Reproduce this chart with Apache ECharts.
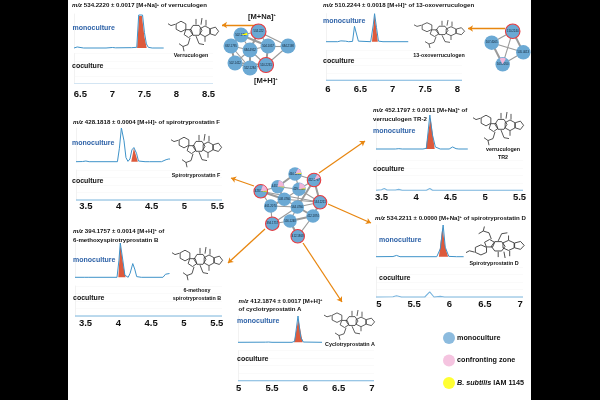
<!DOCTYPE html>
<html><head><meta charset="utf-8">
<style>html,body{margin:0;padding:0;background:#fff}#c{width:600px;height:400px}</style>
<script src="https://cdn.jsdelivr.net/npm/echarts@6/dist/echarts.min.js"></script>
</head><body><div id="c"></div>
<script>
// ---------- chromatogram data [retention time, relative intensity] ----------
const monoVerruculogen=[[6.4,0],[6.42,2],[6.45,3],[6.48,1],[6.55,0],[6.9,0],[7.0,1.5],[7.05,.5],[7.3,1],[7.38,2],[7.41,97],[7.47,97],[7.5,45],[7.53,12],[7.56,2],[7.62,0],[7.8,0]];
const redVerruculogen=[[7.385,0],[7.415,94],[7.46,94],[7.5,32],[7.535,0]];
const cocVerruculogen=[[6.4,0],[8.57,0]];
const monoOxo=[[5.97,0],[6.15,0],[6.2,3],[6.23,8],[6.27,2],[6.32,0],[6.38,1],[6.41,55],[6.44,50],[6.47,2],[6.5,0],[6.66,0],[6.7,60],[6.72,100],[6.75,50],[6.78,2],[6.85,0],[7.24,0]];
const redOxo=[[6.68,0],[6.72,96],[6.77,0]];
const cocOxo=[[5.97,0],[8.07,0]];
const monoF=[[3.35,0],[3.45,.5],[3.5,2],[3.55,0],[3.98,0],[4.01,40],[4.04,100],[4.08,62],[4.11,12],[4.14,1],[4.17,8],[4.2,35],[4.23,42],[4.27,25],[4.3,2],[4.4,0],[4.42,2],[4.47,0],[4.65,0],[4.72,6],[4.76,8],[4.78,8]];
const redF=[[4.19,0],[4.23,40],[4.29,0]];
const cocF=[[3.35,0],[5.57,0]];
const monoB=[[3.34,0],[3.48,0],[3.5,1],[3.54,0],[3.98,0],[4.01,50],[4.03,100],[4.07,48],[4.1,6],[4.15,0],[4.18,12],[4.22,40],[4.25,24],[4.28,2],[4.35,0],[4.68,0],[4.72,9],[4.75,6],[4.78,11]];
const redB=[[4.0,0],[4.03,96],[4.08,30],[4.11,0]];
const cocB=[[3.34,0],[5.58,0]];
const monoTR=[[3.42,0],[3.7,0],[3.75,1],[3.8,0],[4.1,0],[4.15,2],[4.2,100],[4.24,40],[4.28,6],[4.35,0],[4.48,0],[4.53,6],[4.58,1],[4.62,0],[4.75,0]];
const redTR=[[4.14,0],[4.21,92],[4.27,0]];
const cocTR=[[3.42,0],[3.5,2],[3.54,6],[3.58,1],[3.7,1],[3.75,3],[3.8,0],[4.15,0],[4.2,6],[4.24,0],[5.55,0]];
const monoD=[[4.96,0],[5.2,.5],[5.25,4],[5.3,0],[5.82,0],[5.87,25],[5.91,100],[5.94,30],[5.99,1],[6.1,0],[6.2,0]];
const redD=[[5.85,0],[5.9,94],[5.94,30],[5.98,0]];
const cocD=[[4.96,0],[5.2,1],[5.25,4],[5.32,0],[5.65,0],[5.72,17],[5.78,0],[5.87,2],[5.93,0],[7.04,0]];
const monoA=[[4.99,0],[5.4,.5],[5.45,1],[5.5,0],[5.8,0],[5.84,4],[5.89,100],[5.93,20],[5.97,1],[6.0,0],[6.25,0]];
const redA=[[5.83,0],[5.895,88],[5.96,0]];
const cocA=[[4.99,0],[5.85,0],[5.88,1],[5.92,0],[7.03,0]];

const tickVerruculogen=[6.5,7,7.5,8,8.5];
const tickOxo=[6,6.5,7,7.5,8];
const tickSpiro=[3.5,4,4.5,5,5.5];
const tickFive=[5,5.5,6,6.5,7];

// ---------- network nodes [x, y], labels, links ----------
const netALabels=['534.222','502.1797','692.1795','684.4952','504.1057','684.2198','502.1412','552.1284','510.2231'];
const netANodes=[[258.5,31.5],[241,35],[231,46],[250,50],[268,46],[288,46],[235,63],[250,68],[266,65]];
const netAMarked=[0,8];
const netALinks=[[0,1],[0,3],[0,4],[0,5],[1,2],[1,3],[2,3],[2,6],[3,4],[3,6],[3,7],[3,8],[4,5],[4,8],[5,8],[6,7],[6,8],[7,8],[2,7],[1,4]];
const netBLabels=['510.2244','507.4005','505.4013','505.2050'];
const netBNodes=[[512.7,31.3],[491.7,42.7],[523.3,52.3],[502.7,64.3]];
const netBMarked=[0];
const netBLinks=[[0,1],[0,2],[0,3],[1,2],[1,3],[2,3]];
const netCLabels=['460.1154','452.1797','443.1680','429.1466','428.1818','508.4760','534.2211','461.2074','564.4760','412.1874','394.1757','556.1248','412.1868'];
const netCNodes=[[295,174],[314,180],[277.7,186.7],[299,189.3],[260.7,191.3],[284.3,199.3],[320,202.3],[270.7,206],[297.3,207],[313,216],[272.3,223.7],[290,221],[297.7,236.3]];
const netCMarked=[1,4,6,10,12];
const netCLinks=[[0,1],[0,2],[0,3],[1,3],[1,6],[2,3],[2,4],[2,5],[3,5],[3,6],[4,5],[4,7],[5,6],[5,7],[5,8],[6,8],[6,9],[7,8],[7,10],[8,9],[8,10],[8,11],[9,11],[9,12],[10,11],[11,12],[4,6],[3,8],[1,8]];
// wedges: [x, y, start deg, end deg, kind]
const wedges=[[502.7,64.3,240,300,0],[295,174,300,350,0],[295,174,350,360,1],[277.7,186.7,280,360,0],[277.7,186.7,0,8,1],[299,189.3,275,350,0],[299,189.3,350,360,1],[260.7,191.3,290,355,0],[260.7,191.3,355,365,1],[241,35,340,360,1],[314,180,300,340,0]];

// ---------- panels ----------
const panels=[
 {mono:monoVerruculogen,red:redVerruculogen,coc:cocVerruculogen,ticks:tickVerruculogen,min:6.4,max:8.57,l:74,r:213,t:14,b:48,ct:53.5,cb:83.5,m:6,cc:'#d3e5f3'},
 {mono:monoOxo,red:redOxo,coc:cocOxo,ticks:tickOxo,min:5.97,max:8.07,l:326,r:462,t:13.7,b:41.7,ct:50.3,cb:80.3,m:4},
 {mono:monoF,red:redF,coc:cocF,ticks:tickSpiro,min:3.35,max:5.57,l:76,r:222,t:128,b:161.7,ct:170,cb:200,m:1},
 {mono:monoB,red:redB,coc:cocB,ticks:tickSpiro,min:3.34,max:5.58,l:75,r:222,t:243,b:277.3,ct:286,cb:316,m:2},
 {mono:monoTR,red:redTR,coc:cocTR,ticks:tickSpiro,min:3.42,max:5.55,l:376,r:523,t:115,b:149,ct:160.3,cb:190.3,m:2},
 {mono:monoD,red:redD,coc:cocD,ticks:tickFive,min:4.96,max:7.04,l:376,r:523,t:225,b:256.7,ct:267,cb:297,m:2},
 {mono:monoA,red:redA,coc:cocA,ticks:tickFive,min:4.99,max:7.03,l:238,r:374,t:316,b:342.3,ct:350.7,cb:380.7,m:3}
];
const BLUE='#3f93c9',RED='#dd5a3c',FONT='"Liberation Sans",Arial,sans-serif';
const grid=[],xAxis=[],yAxis=[],series=[],title=[];
const faint='#f7f7f7';
panels.forEach(p=>{
  const gi=grid.length;
  grid.push({left:p.l,top:p.t,width:p.r-p.l,height:p.b-p.t},{left:p.l,top:p.ct,width:p.r-p.l,height:p.cb-p.ct});
  xAxis.push({gridIndex:gi,type:'value',min:p.min,max:p.max,axisLine:{show:false},axisTick:{show:false},axisLabel:{show:false},splitLine:{show:false}});
  xAxis.push({gridIndex:gi+1,type:'value',min:p.min,max:p.max,axisLine:{show:false},axisTick:{show:false},splitLine:{show:false},
    axisLabel:{customValues:p.ticks,margin:p.m,fontSize:9.5,fontWeight:600,color:'#111',fontFamily:'"Liberation Sans Narrow","Liberation Sans",sans-serif',showMinLabel:true,showMaxLabel:true,hideOverlap:false}});
  yAxis.push({gridIndex:gi,type:'value',min:0,max:100,interval:25,axisLabel:{show:false},axisTick:{show:false},
    axisLine:{show:true,lineStyle:{color:'#f2f2f2',width:1}},splitLine:{show:false}});
  yAxis.push({gridIndex:gi+1,type:'value',min:0,max:100,interval:25,axisLabel:{show:false},axisTick:{show:false},
    axisLine:{show:true,lineStyle:{color:'#f2f2f2',width:1}},splitLine:{show:true,lineStyle:{color:faint,width:.6}}});
  series.push({type:'line',xAxisIndex:gi,yAxisIndex:gi,data:p.red,symbol:'none',silent:true,z:2,lineStyle:{width:0},areaStyle:{color:RED,opacity:1},itemStyle:{color:RED},clip:false});
  series.push({type:'line',xAxisIndex:gi,yAxisIndex:gi,data:p.mono,symbol:'none',silent:true,z:3,lineStyle:{color:BLUE,width:1},itemStyle:{color:BLUE},clip:false});
  series.push({type:'line',xAxisIndex:gi+1,yAxisIndex:gi+1,data:p.coc,symbol:'none',silent:true,z:3,lineStyle:{color:p.cc||'#7ab5de',width:1.1},itemStyle:{color:BLUE},clip:false});
});
// overlay grid in picture space for the networks and arrows
const ov=grid.length;
grid.push({left:0,top:0,width:600,height:400});
xAxis.push({gridIndex:ov,type:'value',min:0,max:600,show:false});
yAxis.push({gridIndex:ov,type:'value',min:0,max:400,inverse:true,show:false});
function net(labels,nodes,links,marked,size){
  series.push({type:'graph',coordinateSystem:'cartesian2d',xAxisIndex:ov,yAxisIndex:ov,z:5,silent:true,symbolSize:size,
    label:{show:true,position:'inside',fontSize:2.8,color:'#123',fontFamily:FONT},
    data:nodes.map((n,i)=>({name:labels[i],value:n,itemStyle:{color:'#6ba9d4',borderColor:marked.includes(i)?'#e83a3e':'#6ba9d4',borderWidth:marked.includes(i)?1.1:0}})),
    links:links.map((l,i)=>({source:l[0],target:l[1],lineStyle:{color:'#9a9a9a',width:i%3==1?2:1.1,opacity:1}}))});
}
net(netALabels,netANodes,netALinks,netAMarked,15);
net(netBLabels,netBNodes,netBLinks,netBMarked,14.5);
net(netCLabels,netCNodes,netCLinks,netCMarked,13.5);
const wedgeColors=['#f2b5d8','#ffff00'];
series.push({type:'custom',xAxisIndex:ov,yAxisIndex:ov,coordinateSystem:'cartesian2d',z:6,silent:true,data:wedges,clip:false,
  encode:{x:0,y:1},
  renderItem:(params,api)=>{
    const c=api.coord([api.value(0),api.value(1)]);
    const rad=Math.PI/180;
    return {type:'sector',shape:{cx:c[0],cy:c[1],r:6.4,r0:0,startAngle:api.value(2)*rad,endAngle:api.value(3)*rad},style:{fill:wedgeColors[api.value(4)]}};
  }});
const arrows=[[[258,25],[222,25]],[[505,28.5],[468,28.5]],[[319,173],[365,141]],[[328,204],[371,223]],[[254,186],[231,178]],[[265,229],[228,263]],[[303,243],[342,302]]];
series.push({type:'lines',coordinateSystem:'cartesian2d',xAxisIndex:ov,yAxisIndex:ov,z:4,silent:true,symbol:['none','arrow'],symbolSize:5,
  lineStyle:{color:'#e8860f',width:1.3,opacity:1,curveness:0},data:arrows.map(a=>({coords:a}))});
// legend
const legendNames=['monoculture','confronting zone','B. subtilis IAM 1145'];
const legendColors=['#6faad6','#f2b5d8','#ffff00'];
legendNames.forEach((n,i)=>series.push({type:'scatter',name:n,xAxisIndex:ov,yAxisIndex:ov,data:[],itemStyle:{color:legendColors[i]}}));

// ---------- text ----------
const rich={i:{fontStyle:'italic',fontWeight:'bold',fontSize:6.1,fontFamily:FONT,color:'#111'},s:{fontSize:4,fontWeight:'bold',verticalAlign:'top',fontFamily:FONT,color:'#111'}};
function T(text,x,y,size,color,extra){
  title.push(Object.assign({text,left:x,top:y-size/2,padding:0,itemGap:0,textStyle:{fontSize:size,fontWeight:'bold',color:color||'#111',fontFamily:FONT,rich}},extra||{}));
}
[['{i|m/z} 534.2220 ± 0.0017 [M+Na]{s|+} of verruculogen',72,5.5],
 ['{i|m/z} 510.2244 ± 0.0018 [M+H]{s|+} of 13-oxoverruculogen',323,5],
 ['{i|m/z} 428.1818 ± 0.0004 [M+H]{s|+} of spirotryprostatin F',73,122.7],
 ['{i|m/z} 394.1757 ± 0.0014 [M+H]{s|+} of',73,231],
 ['6-methoxyspirotryprostatin B',73,240],
 ['{i|m/z} 452.1797 ± 0.0011 [M+Na]{s|+} of',373,110],
 ['verruculogen TR-2',373,119],
 ['{i|m/z} 534.2211 ± 0.0000 [M+Na]{s|+} of spirotryprostatin D',375,218],
 ['{i|m/z} 412.1874 ± 0.0017 [M+H]{s|+}',238.5,301],
 ['of cyclotryprostatin A',238.5,309]].forEach(a=>T(a[0],a[1],a[2],6.1));
[[72.5,28],[323,21],[72,143],[73,260],[373,131],[379,240],[237,321]].forEach(a=>T('monoculture',a[0],a[1],7,'#2f63a8',{}));
[[72,66],[323,61],[72,181],[73,298],[373,169],[379,278],[237,359]].forEach(a=>T('coculture',a[0],a[1],7,'#111'));
[['Verruculogen',191,56],['13-oxoverruculogen',439,56],['Spirotryprostatin F',196,176],['6-methoxy',197,291],['spirotryprostatin B',197,299],
 ['verruculogen',503,150],['TR2',503,157.5],['Spirotryprostatin D',494,264],['Cyclotryprostatin A',350,345]].forEach(a=>T(a[0],a[1],a[2],5.4,'#111',{textAlign:'center'}));
T('[M+Na]{s|+}',248,17,7.6,'#222');
T('[M+H]{s|+}',254,81,7.6,'#222');

// ---------- structure sketches ----------
function ring(cx,cy,r,n,rot){const p=[];for(let i=0;i<=n;i++){const a=(rot||0)+i*2*Math.PI/n;p.push([cx+r*Math.cos(a),cy+r*Math.sin(a)]);}return p;}
const molShape=[ring(13,9,5.6,6,Math.PI/6),ring(20.5,16,4.6,5,0.3),ring(28,13,6,6,0),ring(37,14,5.6,6,Math.PI/6),ring(46,14,4.6,5,0),
 [[0,6],[3,8],[7.5,6.5]],[[22,21],[20,28],[15,30],[11,27]],[[15,30],[16,35]],[[28,19],[31,27],[36,28]],[[37,20],[37,25]],[[34,0],[33,7]],[[38,2],[38,8]],[[28,7],[28,1]]];
function mol(x,y,sx,sy,flip){
  return {type:'group',x,y,scaleX:sx,scaleY:flip?-sy:sy,silent:true,children:molShape.map(pts=>({type:'polyline',shape:{points:pts},style:{stroke:'#333',fill:'none',lineWidth:.85}}))};
}
const graphic=[
  {type:'rect',left:0,top:0,shape:{width:68,height:400},style:{fill:'#000'},z:100,silent:true},
  {type:'rect',left:531,top:0,shape:{width:69,height:400},style:{fill:'#000'},z:100,silent:true},
  mol(168,18,1,.95),mol(414,20,1,.8),mol(171,134,1,.95),mol(172,247,1,.95),mol(473,112,1,.95),mol(466,258,1.15,.9,true),mol(324,310,1,.85)
];

const chart=echarts.init(document.getElementById('c'),null,{width:600,height:400,renderer:'canvas'});
chart.setOption({animation:false,backgroundColor:'#fff',title,grid,xAxis,yAxis,series,graphic,
  tooltip:{show:false},
  legend:{orient:'vertical',left:438,top:327,itemWidth:12,itemHeight:12,itemGap:10.5,icon:'circle',selectedMode:false,data:legendNames,
    formatter:n=>n.startsWith('B. subtilis')?'{i|B. subtilis} IAM 1145':n,
    textStyle:{fontSize:7.2,fontWeight:'bold',color:'#111',fontFamily:FONT,padding:[0,0,0,-3],rich:{i:{fontStyle:'italic',fontWeight:'bold',fontSize:7.2,fontFamily:FONT,color:'#111'}}}}
});
</script></body></html>
